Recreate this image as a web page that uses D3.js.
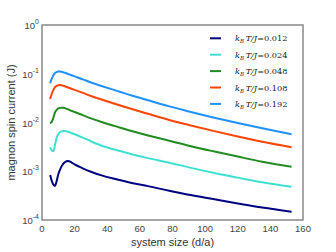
<!DOCTYPE html>
<html>
<head>
<meta charset="utf-8">
<script src="https://cdn.jsdelivr.net/npm/d3@7"></script>
<style>
  body { margin: 0; background: #fff; }
  svg { display: block; font-family: "Liberation Sans", Arial, sans-serif; }
</style>
</head>
<body>
<svg id="chart" width="336" height="252"></svg>
<script>
// system size (d/a)
const sizes = [5, 6, 7, 8, 9, 10, 11, 12, 13, 14, 16, 18, 20, 25, 30, 37, 45, 55, 65, 78, 90, 105, 120, 135, 153];

const temps = ["0.012", "0.024", "0.048", "0.108", "0.192"];
const colors = ["#000080", "#40e0d0", "#228b22", "#ff4500", "#1e90ff"];

// magnon spin current (J), one array per temperature
const current012 = [0.000838, 0.000631, 0.000531, 0.000501, 0.000631, 0.000871, 0.00107, 0.00126, 0.00142, 0.00153, 0.00162, 0.00152, 0.00138, 0.00115, 0.000977, 0.000813, 0.000692, 0.000575, 0.000495, 0.000399, 0.000331, 0.000269, 0.000219, 0.00018, 0.000148];
const current024 = [0.0031, 0.00269, 0.00257, 0.00355, 0.0049, 0.00575, 0.00631, 0.00653, 0.00667, 0.00668, 0.00646, 0.0061, 0.00575, 0.0049, 0.00412, 0.0033, 0.00275, 0.00224, 0.00186, 0.0015, 0.0012, 0.00093, 0.00074, 0.000596, 0.000482];
const current048 = [0.00964, 0.01035, 0.01259, 0.01622, 0.0182, 0.0194, 0.01995, 0.0201, 0.0201, 0.0197, 0.0186, 0.01738, 0.0164, 0.01413, 0.01216, 0.01012, 0.00841, 0.00668, 0.0054, 0.00424, 0.00335, 0.00257, 0.002, 0.00157, 0.00124];
const current108 = [0.0303, 0.0389, 0.0468, 0.0531, 0.0565, 0.0582, 0.0587, 0.0582, 0.0569, 0.0553, 0.0522, 0.0493, 0.0466, 0.0406, 0.0349, 0.0292, 0.024, 0.0189, 0.01507, 0.0113, 0.00891, 0.00673, 0.00515, 0.00403, 0.0031];
const current192 = [0.0637, 0.0794, 0.0933, 0.1035, 0.1084, 0.1109, 0.1114, 0.1102, 0.1076, 0.1047, 0.0989, 0.0933, 0.0881, 0.0767, 0.0661, 0.0556, 0.0455, 0.0357, 0.0285, 0.0214, 0.01687, 0.0127, 0.00973, 0.00759, 0.00573];

const xTicks = [0, 20, 40, 60, 80, 100, 120, 140, 160];
const yExponents = [0, -1, -2, -3, -4];

const series = [current012, current024, current048, current108, current192];

const svg = d3.select("#chart");
const margin = { top: 25, right: 33, bottom: 32, left: 42 };
const width = +svg.attr("width") - margin.left - margin.right;
const height = +svg.attr("height") - margin.top - margin.bottom;

const x = d3.scaleLinear().domain([0, 160]).range([0, width]);
const y = d3.scaleLog().domain([1e-4, 1]).range([height, 0]);

const g = svg.append("g").attr("transform", `translate(${margin.left},${margin.top})`);

const line = d3.line()
  .x(d => x(d[0]))
  .y(d => y(d[1]))
  .curve(d3.curveMonotoneX);

series.forEach((vals, i) => {
  g.append("path")
    .datum(sizes.map((s, j) => [s, vals[j]]))
    .attr("fill", "none")
    .attr("stroke", colors[i])
    .attr("stroke-width", 2)
    .attr("stroke-linejoin", "round")
    .attr("d", line);
});

// frame
g.append("rect")
  .attr("width", width)
  .attr("height", height)
  .attr("fill", "none")
  .attr("stroke", "#888")
  .attr("stroke-width", 1.5);

// x tick labels
g.selectAll(".xt")
  .data(xTicks)
  .enter().append("text")
  .attr("x", d => x(d))
  .attr("y", height + 12)
  .attr("text-anchor", "middle")
  .attr("font-size", 9.5)
  .attr("fill", "#444")
  .text(d => d);

// y tick labels, 10^n
const yt = g.selectAll(".yt")
  .data(yExponents)
  .enter().append("text")
  .attr("x", -3)
  .attr("y", d => y(Math.pow(10, d)) + 4)
  .attr("text-anchor", "end")
  .attr("font-size", 9.5)
  .attr("fill", "#444");
yt.append("tspan").text("10");
yt.append("tspan").attr("dy", -5).attr("font-size", 7).text(d => d);

// axis titles
svg.append("text")
  .attr("x", margin.left + width / 2)
  .attr("y", 246)
  .attr("text-anchor", "middle")
  .attr("font-size", 11)
  .attr("fill", "#333")
  .text("system size (d/a)");

svg.append("text")
  .attr("transform", `translate(15,${margin.top + height / 2}) rotate(-90)`)
  .attr("text-anchor", "middle")
  .attr("font-size", 11)
  .attr("fill", "#333")
  .text("magnon spin current (J)");

// legend
const legend = svg.append("g").attr("transform", "translate(210,38.3)");
temps.forEach((t, i) => {
  const row = legend.append("g").attr("transform", `translate(0,${i * 16.4})`);
  row.append("line")
    .attr("x1", 0).attr("x2", 11)
    .attr("stroke", colors[i])
    .attr("stroke-width", 2);
  const txt = row.append("text")
    .attr("x", 25)
    .attr("y", 3)
    .attr("font-family", "'DejaVu Serif', serif")
    .attr("font-size", 8.2)
    .attr("fill", "#222");
  txt.append("tspan").attr("font-style", "italic").text("k");
  txt.append("tspan").attr("font-style", "italic").attr("font-size", 5.5).attr("dy", 2).text("B");
  txt.append("tspan").attr("font-style", "italic").attr("dy", -2).text("\u2009T/J");
  txt.append("tspan").text("=" + t);
});
</script>
</body>
</html>
